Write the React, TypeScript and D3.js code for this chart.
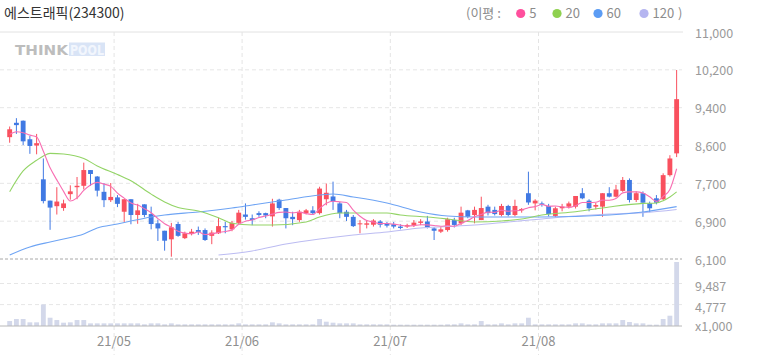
import React from 'react';
import * as d3 from 'd3';

const title = '에스트래픽(234300)';

const tradingDays: [string, number[]][] = [
  ['04', [9, 12, 13, 14, 15, 16, 19, 20, 21, 22, 23, 26, 27, 28, 29, 30]],
  ['05', [3, 4, 6, 7, 10, 11, 12, 13, 14, 17, 18, 20, 21, 24, 25, 26, 27, 28, 31]],
  ['06', [1, 2, 3, 4, 7, 8, 9, 10, 11, 14, 15, 16, 17, 18, 21, 22, 23, 24, 25, 28, 29, 30]],
  ['07', [1, 2, 5, 6, 7, 8, 9, 12, 13, 14, 15, 16, 19, 20, 21, 22, 23, 26, 27, 28, 29, 30]],
  ['08', [2, 3, 4, 5, 6, 9, 10, 11, 12, 13, 17, 18, 19, 20, 23, 24, 25, 26, 27, 30, 31]],
];
const dates = tradingDays.flatMap(([m, ds]) => ds.map((d) => `21/${m}/${String(d).padStart(2, '0')}`));

const opens = [
  8730, 9040, 9085, 8685, 8550, 7820, 7360, 7240, 7200, 7500,
  7650, 7680, 8020, 7880, 7550, 7370, 7430, 7120, 7390, 7050,
  7280, 7070, 6870, 6710, 6525, 6855, 6550, 6640, 6725, 6725,
  6600, 6655, 6810, 6740, 6880, 7060, 6980, 7090, 7090, 7020,
  7380, 7200, 7010, 6940, 7090, 7150, 7090, 7390, 7450, 7300,
  7120, 7010, 6850, 6840, 6840, 6910, 6870, 6850, 6800, 6800,
  6835, 6880, 6910, 6760, 6690, 6725, 6940, 6870, 7150, 7050,
  6940, 7230, 7160, 7050, 7245, 7050, 7150, 7520, 7300, 7300,
  7245, 7030, 7195, 7230, 7230, 7520, 7360, 7230, 7230, 7520,
  7445, 7570, 7806, 7374, 7520, 7300, 7410, 7390, 7910, 8380,
];
const highs = [
  8960, 9140, 9090, 8755, 8800, 8270, 7360, 7650, 7380, 7690,
  7870, 8180, 8020, 7890, 7740, 7740, 7480, 7390, 7390, 7290,
  7280, 7230, 6950, 6710, 6880, 6900, 6690, 6750, 6800, 6760,
  6720, 6990, 6900, 6920, 7160, 7300, 7060, 7130, 7100, 7400,
  7400, 7200, 7120, 7160, 7180, 7240, 7660, 7730, 7770, 7330,
  7160, 7050, 6940, 6940, 6960, 6940, 6900, 6900, 6850, 6860,
  6940, 6960, 7030, 6790, 6790, 6990, 6990, 7230, 7160, 7230,
  7445, 7270, 7230, 7290, 7270, 7380, 7200, 7985, 7390, 7340,
  7290, 7230, 7290, 7340, 7460, 7630, 7390, 7310, 7520, 7650,
  7700, 7870, 7840, 7560, 7560, 7340, 7480, 7950, 8340, 10180,
];
const lows = [
  8610, 8800, 8560, 8370, 8360, 7300, 6730, 7060, 7140, 7380,
  7390, 7600, 7680, 7450, 7220, 7330, 7220, 6890, 6850, 6860,
  7000, 6740, 6490, 6280, 6150, 6580, 6530, 6610, 6620, 6490,
  6420, 6640, 6655, 6700, 6850, 6950, 6830, 7010, 6980, 6800,
  7160, 6760, 6830, 6900, 7060, 7060, 7060, 7260, 7160, 6980,
  6920, 6790, 6655, 6760, 6800, 6780, 6780, 6760, 6740, 6770,
  6790, 6830, 6760, 6510, 6660, 6690, 6780, 6830, 6980, 6870,
  6940, 7040, 7040, 7020, 7020, 7020, 7100, 7270, 7150, 7230,
  7020, 7000, 7130, 7190, 7190, 7390, 7130, 7170, 7010, 7430,
  7430, 7550, 7320, 7330, 7010, 7110, 7280, 7370, 7880, 8300,
];
const closes = [
  8900, 8990, 8640, 8540, 8600, 7350, 7210, 7340, 7300, 7560,
  7680, 8020, 7935, 7575, 7370, 7440, 7290, 7390, 7050, 7150,
  7050, 6855, 6760, 6495, 6785, 6600, 6655, 6690, 6685, 6510,
  6670, 6810, 6785, 6880, 7100, 7010, 6940, 7050, 7040, 7300,
  7200, 6980, 6960, 7120, 7150, 7090, 7620, 7530, 7340, 7090,
  7010, 6810, 6870, 6870, 6930, 6840, 6820, 6800, 6770, 6830,
  6885, 6910, 6785, 6710, 6740, 6960, 6835, 7100, 7010, 7160,
  7200, 7090, 7070, 7245, 7050, 7245, 7180, 7320, 7360, 7270,
  7070, 7195, 7230, 7300, 7460, 7410, 7195, 7265, 7520, 7445,
  7600, 7806, 7374, 7520, 7315, 7195, 7315, 7910, 8270, 9550,
];
const volumes = [
  1110, 1560, 1560, 820, 820, 4820, 1850, 1330, 740, 820,
  1330, 1330, 590, 590, 590, 590, 590, 590, 590, 590,
  370, 590, 590, 370, 590, 370, 370, 370, 370, 370,
  370, 370, 370, 370, 590, 370, 370, 370, 370, 820,
  590, 370, 370, 370, 370, 370, 1560, 960, 740, 590,
  590, 590, 370, 370, 370, 370, 370, 300, 300, 300,
  300, 300, 300, 300, 300, 370, 370, 590, 370, 370,
  1110, 370, 370, 590, 370, 590, 590, 1850, 370, 370,
  370, 370, 370, 370, 590, 590, 370, 370, 590, 590,
  590, 1330, 890, 590, 590, 300, 300, 1560, 2300, 14300,
];
const prevCloses = [8700, 8750, 8800, 8800];

const ma20Idx = [0, 2, 4, 5, 6, 8, 11, 13, 16, 18, 21, 23, 25, 28, 31, 33, 36, 39, 44, 46, 49, 51, 56, 58, 62, 65, 69, 73, 76, 79, 84, 89, 94, 96, 97, 98, 99];
const ma20Val = [7553, 8000, 8230, 8324, 8380, 8367, 8270, 8110, 7925, 7790, 7500, 7330, 7210, 7136, 6990, 6870, 6834, 6834, 6900, 7007, 7093, 7093, 7093, 7050, 7007, 6964, 6900, 6920, 6964, 7050, 7120, 7223, 7300, 7310, 7360, 7440, 7550];
const ma60Idx = [0, 3, 6, 8, 11, 13, 16, 18, 21, 23, 28, 33, 36, 41, 46, 48, 51, 56, 61, 65, 69, 79, 89, 94, 99];
const ma60Val = [6186, 6359, 6467, 6532, 6640, 6769, 6856, 6920, 7007, 7050, 7115, 7201, 7266, 7374, 7482, 7503, 7439, 7309, 7115, 7028, 7007, 7007, 7050, 7115, 7230];
const ma120Idx = [31, 36, 41, 46, 51, 56, 61, 65, 69, 74, 79, 84, 89, 94, 99];
const ma120Val = [6186, 6273, 6424, 6532, 6618, 6683, 6769, 6800, 6834, 6899, 6964, 7028, 7072, 7100, 7170];

const priceDomain = [6100, 11000];
const priceTickCount = 6;
const volMax = 14300;
const volTickLabels = ['9,487', '4,777', 'x1,000'];
const volTickValues = [9487, 4777, 0];

const legendItems = [
  { label: '5', color: '#ff4f9d' },
  { label: '20', color: '#8fd14f' },
  { label: '60', color: '#5b9cf4' },
  { label: '120', color: '#b5b5f0' },
];
const maColors = { ma5: '#f86fb3', ma20: '#93d466', ma60: '#6ea4f4', ma120: '#bcbcf2' };
const UP = '#f9505e';
const DOWN = '#4079e3';
const FONT = "'Noto Sans CJK KR', 'Noto Sans', sans-serif";

export default function App() {
  const W = 758, H = 355;
  const left = 6.3, right = 680;
  const pTop = 32, pBot = 259;
  const vTop = 262, vBot = 326;
  const n = closes.length;

  const x = d3.scaleBand<number>().domain(d3.range(n)).range([left, right]).paddingInner(0.28).paddingOuter(0.14);
  const bw = x.bandwidth();
  const step = x.step();
  const cx = (i: number) => (x(i) as number) + bw / 2;
  const y = d3.scaleLinear().domain(priceDomain).range([pBot, pTop]);
  const yv = d3.scaleLinear().domain([0, volMax]).range([vBot, vTop]);

  const priceTicks = d3.range(priceTickCount + 1).map((k) => priceDomain[1] - (k * (priceDomain[1] - priceDomain[0])) / priceTickCount);
  const fmt = d3.format(',');

  const monthStarts: { i: number; label: string }[] = [];
  dates.forEach((d, i) => {
    if (i > 0 && d.slice(0, 5) !== dates[i - 1].slice(0, 5)) monthStarts.push({ i, label: d.slice(0, 5) });
  });

  const allCloses = [...prevCloses, ...closes];
  const ma5 = closes.map((_, i) => [i, d3.mean(allCloses.slice(i, i + 5)) as number] as [number, number]);
  const line = d3.line<[number, number]>().x((d) => cx(d[0])).y((d) => y(d[1])).curve(d3.curveMonotoneX);
  const zip = (a: number[], b: number[]) => a.map((v, k) => [v, b[k]] as [number, number]);

  return (
    <svg width={W} height={H} style={{ position: 'absolute', left: 0, top: 0, background: '#fff' }} fontFamily={FONT}>
      {/* title */}
      <text x={4} y={18} fontSize={14} fill="#333">{title}</text>
      {/* legend */}
      <g fontSize={13} fill="#8c8c8c">
        <text x={466} y={18}>(이평 :</text>
        {legendItems.map((it, k) => {
          const dotX = [520.7, 557, 598, 644][k];
          return (
            <g key={it.label}>
              <circle cx={dotX} cy={13.5} r={4.6} fill={it.color} />
              <text x={dotX + 8.5} y={18}>{it.label}</text>
            </g>
          );
        })}
        <text x={678} y={18}>)</text>
      </g>

      {/* top border */}
      <line x1={0} x2={683} y1={pTop} y2={pTop} stroke="#e2e2e2" />
      {/* horizontal price grid */}
      {priceTicks.slice(1, -1).map((t) => (
        <line key={t} x1={0} x2={682} y1={y(t)} y2={y(t)} stroke="#e6e6e6" strokeDasharray="4,3" />
      ))}
      {/* volume grid */}
      {volTickValues.slice(0, 2).map((t) => (
        <line key={t} x1={0} x2={682} y1={yv(t)} y2={yv(t)} stroke="#e6e6e6" strokeDasharray="4,3" />
      ))}
      {/* month grid */}
      {monthStarts.map((m) => {
        const gx = (x(m.i) as number) - (step - bw) / 2;
        return <line key={m.label} x1={gx} x2={gx} y1={pTop} y2={H} stroke="#e4e4e4" strokeDasharray="4,3" />;
      })}

      {/* logo */}
      <g>
        <text x={15} y={55} fontSize={14} fontWeight={700} fontFamily="'DejaVu Sans', sans-serif" fill="#bdbdbd" textLength={53} lengthAdjust="spacingAndGlyphs">THINK</text>
        <rect x={69} y={42.5} width={36} height={13.5} fill="#d9e4f6" />
        <text x={70} y={55} fontSize={14} fontWeight={700} fontFamily="'DejaVu Sans', sans-serif" fill="#f2f6fd" textLength={34} lengthAdjust="spacingAndGlyphs">POOL</text>
      </g>

      {/* volume */}
      {volumes.map((v, i) => (
        <rect key={i} x={x(i)} y={yv(v)} width={bw} height={vBot - yv(v)} fill="#d3d8ea" />
      ))}

      {/* separator and volume base */}
      <line x1={0} x2={682} y1={pBot} y2={pBot} stroke="#a8a8a8" strokeDasharray="3,2" />
      <line x1={0} x2={682} y1={vBot} y2={vBot} stroke="#b8b8b8" />

      {/* candles */}
      {closes.map((c, i) => {
        const o = opens[i];
        const col = c >= o ? UP : DOWN;
        const top = y(Math.max(o, c));
        const h = Math.max(1, Math.abs(y(o) - y(c)));
        return (
          <g key={i}>
            <line x1={cx(i)} x2={cx(i)} y1={y(highs[i])} y2={y(lows[i])} stroke={col} strokeWidth={1} />
            <rect x={x(i)} y={top} width={bw} height={h} fill={col} />
          </g>
        );
      })}

      {/* moving averages */}
      <path d={line(zip(ma120Idx, ma120Val)) || ''} fill="none" stroke={maColors.ma120} strokeWidth={1.1} />
      <path d={line(zip(ma60Idx, ma60Val)) || ''} fill="none" stroke={maColors.ma60} strokeWidth={1.1} />
      <path d={line(zip(ma20Idx, ma20Val)) || ''} fill="none" stroke={maColors.ma20} strokeWidth={1.1} />
      <path d={line(ma5) || ''} fill="none" stroke={maColors.ma5} strokeWidth={1.1} />

      {/* right axis labels */}
      <g fontSize={12.5} fill="#9a9a9a">
        {priceTicks.map((t) => (
          <text key={t} x={695} y={y(t)} dominantBaseline="central">{fmt(Math.round(t / 100) * 100)}</text>
        ))}
        {volTickValues.map((t, k) => (
          <text key={k} x={695} y={k === 2 ? vBot - 1 : yv(t) + 2} dominantBaseline="central">{volTickLabels[k]}</text>
        ))}
      </g>

      {/* x axis labels */}
      <g fontSize={13} fill="#8f8f8f" textAnchor="middle">
        {monthStarts.map((m) => {
          const gx = (x(m.i) as number) - (step - bw) / 2;
          return <text key={m.label} x={gx} y={346}>{m.label}</text>;
        })}
      </g>
    </svg>
  );
}
